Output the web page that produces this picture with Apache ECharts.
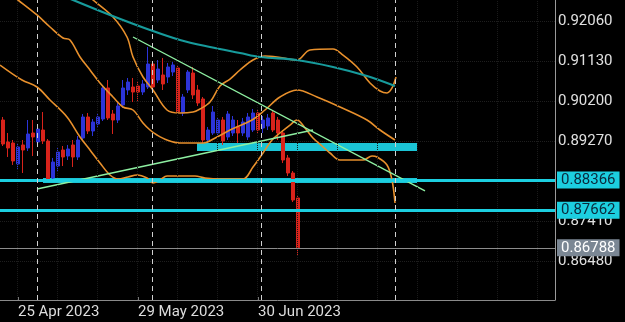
<!DOCTYPE html>
<html>
<head>
<meta charset="utf-8">
<title>chart</title>
<style>
html, body { margin: 0; padding: 0; background: #000; }
#chart { width: 625px; height: 322px; }
</style>
</head>
<body>
<div id="chart"></div>
<script src="https://cdn.jsdelivr.net/npm/echarts@6/dist/echarts.min.js"></script>
<script>
// daily candles, [open, close, low, high]
var ohlc = [
  [0.89765, 0.89206, 0.89159, 0.89835],
  [0.89252, 0.89113, 0.88903, 0.89462],
  [0.89229, 0.88810, 0.88717, 0.89299],
  [0.88740, 0.89136, 0.88600, 0.89206],
  [0.89183, 0.89066, 0.88530, 0.89299],
  [0.89113, 0.89439, 0.89043, 0.89765],
  [0.89462, 0.89369, 0.88926, 0.89765],
  [0.89252, 0.89555, 0.89159, 0.89625],
  [0.89532, 0.89276, 0.89206, 0.89951],
  [0.89276, 0.88367, 0.88320, 0.89322],
  [0.88414, 0.88786, 0.88344, 0.88880],
  [0.88693, 0.89019, 0.88553, 0.89113],
  [0.89066, 0.88903, 0.88693, 0.89159],
  [0.88926, 0.89089, 0.88833, 0.89183],
  [0.89183, 0.88903, 0.88670, 0.89299],
  [0.88903, 0.89299, 0.88833, 0.89392],
  [0.89346, 0.89835, 0.89276, 0.89905],
  [0.89835, 0.89509, 0.89439, 0.89928],
  [0.89509, 0.89718, 0.89392, 0.89788],
  [0.89672, 0.89835, 0.89602, 0.89928],
  [0.89788, 0.90511, 0.89742, 0.90581],
  [0.90511, 0.89812, 0.89765, 0.90697],
  [0.89905, 0.89765, 0.89439, 0.89998],
  [0.89765, 0.90091, 0.89695, 0.90161],
  [0.90115, 0.90511, 0.90045, 0.90697],
  [0.90464, 0.90650, 0.90348, 0.90744],
  [0.90534, 0.90417, 0.90184, 0.90744],
  [0.90557, 0.90417, 0.90184, 0.90674],
  [0.90417, 0.90604, 0.90348, 0.90697],
  [0.90534, 0.91070, 0.90487, 0.91466],
  [0.91070, 0.90534, 0.90464, 0.91116],
  [0.90697, 0.90953, 0.90627, 0.91163],
  [0.90814, 0.90604, 0.90464, 0.91210],
  [0.90767, 0.91000, 0.90627, 0.91093],
  [0.90883, 0.91047, 0.90790, 0.91116],
  [0.90977, 0.89951, 0.89905, 0.91023],
  [0.89928, 0.90301, 0.89858, 0.90371],
  [0.90464, 0.90883, 0.90394, 0.90930],
  [0.90860, 0.90348, 0.90254, 0.91000],
  [0.90464, 0.90161, 0.90091, 0.90581],
  [0.90254, 0.89299, 0.89229, 0.90301],
  [0.89299, 0.89532, 0.89229, 0.89602],
  [0.89462, 0.89951, 0.89416, 0.90091],
  [0.89462, 0.89765, 0.89392, 0.89835],
  [0.89765, 0.89276, 0.89183, 0.89835],
  [0.89369, 0.89905, 0.89299, 0.89975],
  [0.89462, 0.89765, 0.89392, 0.89858],
  [0.89602, 0.89462, 0.89229, 0.89765],
  [0.89462, 0.89718, 0.89392, 0.89812],
  [0.89369, 0.89835, 0.89299, 0.89928],
  [0.89532, 0.89928, 0.89485, 0.90021],
  [0.89928, 0.89532, 0.89462, 0.89998],
  [0.89579, 0.89765, 0.89462, 0.89858],
  [0.89625, 0.89812, 0.89532, 0.89905],
  [0.89928, 0.89532, 0.89485, 0.89998],
  [0.89765, 0.89462, 0.89299, 0.89835],
  [0.89462, 0.88833, 0.88763, 0.89532],
  [0.88880, 0.88530, 0.88460, 0.88950],
  [0.88530, 0.87901, 0.87854, 0.88577],
  [0.87948, 0.86788, 0.86596, 0.87994]
];

// bar index -> date label
var dateTicks = [3, 27, 51];
var dateLabels = ['25 Apr 2023', '29 May 2023', '30 Jun 2023'];
var priceTicks = [0.8648, 0.8741, 0.8834, 0.8927, 0.9020, 0.9113, 0.9206];

// indicator curves, [bar index, price]
var bandUpper = [
  [13.4, 0.93027], [18, 0.92561], [22, 0.92165], [24.8, 0.91699], [26, 0.91233],
  [28, 0.90767], [30, 0.90464], [32.8, 0.89998], [35.4, 0.89928], [38, 0.89951],
  [39.4, 0.90021], [41.4, 0.90184], [43.4, 0.90557], [45.4, 0.90720], [47.4, 0.90930],
  [50, 0.91163], [52.4, 0.91256], [54.8, 0.91233], [58.8, 0.91163], [61.4, 0.91396],
  [66, 0.91419], [68, 0.91279], [70.8, 0.91000], [73.4, 0.90627], [75.4, 0.90441],
  [76.8, 0.90394], [77.8, 0.90511], [78.6, 0.90767]
];
var bandMiddle = [
  [-0.6, 0.92887], [3, 0.92561], [6.8, 0.92212], [9.4, 0.91932], [12, 0.91676],
  [13.4, 0.91629], [15.4, 0.91233], [17.4, 0.90930], [19.4, 0.90627], [22, 0.90301],
  [24, 0.90068], [26, 0.89998], [28, 0.89695], [29.4, 0.89532], [30.8, 0.89416],
  [32.8, 0.89299], [35.4, 0.89229], [38, 0.89229], [40, 0.89229], [42.8, 0.89369],
  [45.4, 0.89532], [49.8, 0.89765], [52.4, 0.89998], [55.4, 0.90301], [58.8, 0.90464],
  [62.8, 0.90301], [67.4, 0.90068], [72.8, 0.89765], [75.4, 0.89532], [78.4, 0.89299]
];
var bandLower = [
  [-0.6, 0.91046], [3.8, 0.90697], [6.8, 0.90534], [9.4, 0.90231], [12.8, 0.89835],
  [15.4, 0.89369], [17.4, 0.89066], [19.4, 0.88763], [21.4, 0.88484], [23, 0.88390],
  [25, 0.88437], [26.8, 0.88484], [28.8, 0.88414], [30, 0.88297], [31.4, 0.88367],
  [32.8, 0.88460], [35.4, 0.88460], [38.4, 0.88460], [40.4, 0.88414], [43.4, 0.88390],
  [48, 0.88390], [50, 0.88670], [52, 0.88996], [53.8, 0.89299], [55.4, 0.89462],
  [57.4, 0.89648], [58.8, 0.89765], [60.4, 0.89579], [62, 0.89346], [63.8, 0.89159],
  [65.4, 0.88996], [67.4, 0.88833], [72, 0.88833], [73.8, 0.88926], [74.8, 0.88903],
  [76.8, 0.88717], [77.8, 0.88367], [78.4, 0.87831]
];
var slowMA = [
  [7.4, 0.92887], [14, 0.92561], [21.4, 0.92212], [29.4, 0.91862], [35.4, 0.91629],
  [41.4, 0.91466], [47.4, 0.91326], [51.4, 0.91233], [58.8, 0.91163], [66, 0.91000],
  [72.8, 0.90790], [78.4, 0.90557]
];
var trendDown = [[26, 0.91699], [84.4, 0.88111]];
var trendUp = [[6.8, 0.88157], [62, 0.89532]];

// zones [fromBar, toBar, lowPrice, highPrice]
var zones = [
  [38.8, 82.8, 0.89043, 0.89229],
  [8, 82.8, 0.88297, 0.88414]
];
var levels = [0.88366, 0.87662];
var lastPrice = 0.86788;
var sessionLines = [6.8, 29.8, 51.6, 78.4];
var gridLinesX = [2.8, 10.8, 18.8, 26.8, 34.8, 42.8, 50.8, 58.8, 66.8, 74.8, 82.8, 90.8, 98.8, 106.8];

var orange = '#e8902c';
var cyan = '#1ccfe0';

function curve(data, color, width) {
  return {
    type: 'line', data: data, showSymbol: false, smooth: 0.35, z: 3,
    lineStyle: { color: color, width: width }, silent: true
  };
}

var chart = echarts.init(document.getElementById('chart'));
var option = {
  backgroundColor: '#000',
  animation: false,
  textStyle: { fontFamily: 'Roboto' },
  grid: { left: 0, right: 70, top: 0, bottom: 22 },
  xAxis: {
    type: 'value', min: -0.6, max: 110.4,
    axisLine: { onZero: false, lineStyle: { color: '#8a8a8a', width: 1 } },
    axisTick: { customValues: dateTicks, inside: true, length: 3, lineStyle: { color: '#777' } },
    axisLabel: {
      customValues: dateTicks, align: 'left', color: '#dddddd', fontSize: 15, margin: 5,
      formatter: function (v) { return dateLabels[dateTicks.indexOf(v)]; }
    },
    splitLine: { show: false }
  },
  yAxis: {
    type: 'value', position: 'right', min: 0.85571, max: 0.92561,
    axisLine: { show: true, onZero: false, lineStyle: { color: '#9a9a9a', width: 1 } },
    axisTick: { show: false, customValues: priceTicks },
    axisLabel: {
      customValues: priceTicks, color: '#e0e0e0', fontSize: 15, margin: 3,
      formatter: function (v) { return v.toFixed(5); }
    },
    splitLine: { show: true, lineStyle: { color: '#1e1e1e', type: 'dotted' } }
  },
  series: [
    {
      type: 'line', data: [], z: 1, silent: true,
      markLine: {
        symbol: 'none', silent: true, precision: 5, label: { show: false },
        lineStyle: { color: '#1a1a1a', type: 'dotted', width: 1 },
        data: gridLinesX.map(function (v) { return { xAxis: v }; })
      }
    },
    {
      type: 'candlestick', z: 2, barWidth: 4, silent: true,
      encode: { x: 0, y: [1, 2, 3, 4] },
      data: ohlc.map(function (d, i) { return [i, d[0], d[1], d[2], d[3]]; }),
      itemStyle: {
        color: '#2c34d8', color0: '#d8231b',
        borderColor: '#2c34d8', borderColor0: '#d8231b', borderWidth: 1
      }
    },
    curve(bandUpper, orange, 1.6),
    curve(bandMiddle, orange, 1.6),
    curve(bandLower, orange, 1.6),
    curve(slowMA, '#179b9c', 2.2),
    {
      type: 'line', data: [], z: 4, silent: true,
      markArea: {
        silent: true,
        itemStyle: { color: cyan, opacity: 0.95 },
        data: zones.map(function (z) {
          return [{ xAxis: z[0], yAxis: z[3] }, { xAxis: z[1], yAxis: z[2] }];
        })
      },
      markLine: {
        symbol: 'none', silent: true, precision: 5,
        data: levels.map(function (v) {
          return {
            yAxis: v,
            lineStyle: { color: cyan, width: 3, type: 'solid' },
            label: {
              position: 'end', distance: 2, formatter: v.toFixed(5),
              backgroundColor: cyan, color: '#0b2a3c', fontSize: 15, padding: [1, 4]
            }
          };
        }).concat([{
          yAxis: lastPrice,
          lineStyle: { color: '#8c8c8c', width: 1, type: 'solid' },
          label: {
            position: 'end', distance: 2, formatter: lastPrice.toFixed(5),
            backgroundColor: '#7b8794', color: '#ffffff', fontSize: 15, padding: [1, 4]
          }
        }]).concat(sessionLines.map(function (v) {
          return {
            xAxis: v, label: { show: false },
            lineStyle: { color: '#d0d0d0', width: 1, type: [5, 4] }
          };
        }))
      }
    },
    curve(trendDown, '#8ef0a2', 1.4),
    curve(trendUp, '#8ef0a2', 1.4)
  ]
};
chart.setOption(option);
</script>
</body>
</html>
